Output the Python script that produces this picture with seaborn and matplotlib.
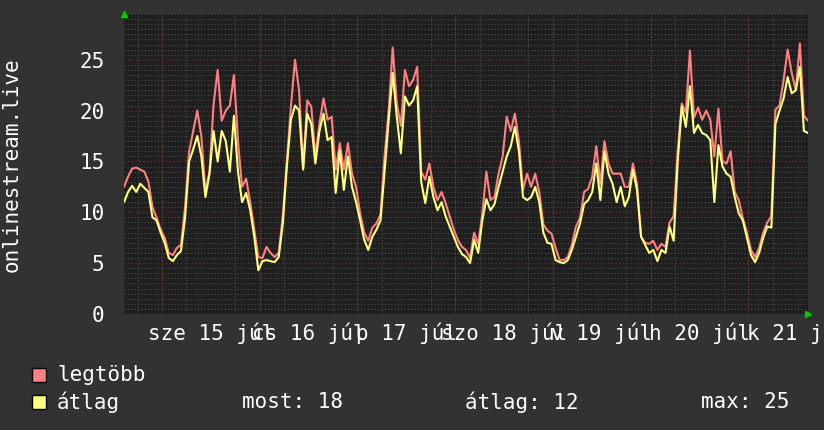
import matplotlib
matplotlib.use("Agg")
import matplotlib.pyplot as plt
import matplotlib.dates as mdates
from matplotlib.ticker import MultipleLocator
from matplotlib.patches import Rectangle
import seaborn as sns
import pandas as pd

# hourly readings, starting 2015-07-14 14:40
legtobb = [
    12.5, 13.5, 14.3, 14.4, 14.2, 14.0, 13.0, 10.5, 9.5, 8.3, 7.5, 6.0, 5.8, 6.5, 6.8, 10.5,
    16.0, 18.0, 20.0, 17.5, 12.0, 14.0, 20.6, 24.0, 19.0, 20.0, 20.5, 23.5, 17.0, 12.5, 13.3, 11.0,
    8.3, 5.6, 5.5, 6.6, 6.0, 5.6, 6.0, 9.6, 15.0, 20.4, 25.0, 22.0, 14.4, 21.0, 20.4, 15.5,
    18.7, 21.2, 19.1, 19.4, 14.2, 16.8, 14.2, 16.8, 13.8, 12.5, 9.9, 8.0, 7.2, 8.5, 8.9, 9.8,
    15.5, 20.0, 26.2, 20.7, 18.5, 24.0, 22.4, 23.0, 24.3, 14.0, 13.2, 14.8, 12.5, 11.2, 12.0, 10.9,
    9.6, 8.3, 7.3, 6.6, 6.3, 5.5, 8.0, 6.9, 9.8, 14.0, 11.2, 11.5, 13.8, 15.5, 19.4, 18.0,
    19.7, 17.0, 12.2, 13.8, 12.5, 13.8, 12.0, 8.8, 8.2, 7.9, 6.5, 5.3, 5.3, 5.6, 6.8, 8.6,
    9.4, 12.0, 12.3, 13.5, 16.5, 12.8, 17.0, 14.8, 13.8, 13.8, 13.8, 12.5, 12.5, 14.8, 12.8, 7.6,
    7.0, 6.9, 7.2, 6.3, 6.9, 6.6, 9.0, 9.6, 16.0, 20.7, 19.8, 25.9, 19.3, 20.3, 19.1, 20.0,
    19.1, 15.5, 20.2, 15.0, 14.8, 16.0, 12.0, 11.2, 9.4, 8.0, 6.3, 5.6, 6.5, 8.0, 9.0, 9.6,
    20.1, 20.5, 23.0, 26.0, 23.7, 22.0, 26.6, 19.5, 19.0,
]
atlag = [
    11.0, 12.0, 12.6, 12.0, 12.8, 12.4, 12.0, 9.5, 9.2, 8.0, 7.0, 5.5, 5.2, 5.8, 6.2, 9.5,
    15.0, 16.2, 17.5, 15.5, 11.5, 13.8, 18.0, 15.0, 18.0, 17.0, 14.0, 19.5, 14.0, 11.0, 11.9, 10.2,
    7.6, 4.3, 5.2, 5.3, 5.2, 5.1, 5.6, 8.9, 14.5, 19.1, 20.5, 20.0, 14.2, 19.7, 18.7, 14.8,
    18.0, 19.7, 17.1, 17.4, 11.9, 16.1, 12.2, 15.5, 12.5, 11.0, 9.2, 7.3, 6.3, 7.6, 8.3, 9.2,
    14.0, 19.0, 23.7, 19.4, 15.8, 21.4, 20.5, 21.0, 22.4, 13.0, 10.9, 13.5, 11.5, 10.2, 11.0, 9.6,
    8.6, 7.6, 6.6, 5.9, 5.6, 5.0, 7.3, 6.0, 9.2, 11.3, 10.2, 10.8, 12.5, 14.0, 15.5, 16.5,
    18.4, 16.0, 11.5, 11.2, 11.5, 12.5, 11.0, 8.0, 7.0, 6.9, 5.3, 5.1, 5.0, 5.3, 6.3, 7.6,
    8.9, 10.8, 11.2, 12.0, 14.8, 11.2, 16.0, 13.8, 12.8, 11.0, 12.5, 10.6, 11.5, 14.2, 12.2, 7.6,
    6.8, 6.0, 6.3, 5.2, 6.3, 6.0, 8.6, 7.2, 15.0, 20.4, 18.4, 22.4, 17.8, 18.6, 17.8, 17.6,
    17.1, 11.0, 16.6, 14.5, 13.8, 13.5, 11.5, 9.9, 9.2, 7.5, 5.8, 5.1, 6.0, 7.5, 8.6, 8.5,
    18.7, 20.0, 21.2, 23.3, 21.7, 22.0, 24.3, 18.0, 17.8,
]
day_labels = ["sze 15 júl", "cs 16 júl", "p 17 júl", "szo 18 júl",
              "v 19 júl", "h 20 júl", "k 21 júl"]
series_names = ["legtöbb", "átlag"]
stat_texts = ["most: 18", "átlag: 12", "max: 25"]

BG = "#323232"
PLOT_BG = "#1f1f1f"
RED = "#ff8080"
YELLOW = "#ffff80"

times = pd.date_range("2015-07-14 14:40", periods=len(atlag), freq="h")
df = pd.DataFrame({"ido": times, "legtöbb": legtobb, "átlag": atlag})
noons = pd.date_range("2015-07-15 12:00", periods=len(day_labels), freq="D")
midnights = pd.date_range("2015-07-15 00:00", periods=len(day_labels), freq="D")

sns.set_theme(style="dark")
plt.rcParams["font.family"] = ["DejaVu Sans Mono", "DejaVu Sans"]

fig = plt.figure(figsize=(8.24, 4.30), dpi=100, facecolor=BG)
ax = fig.add_axes([124 / 824, 116 / 430, 684 / 824, 300 / 430])
ax.set_facecolor(PLOT_BG)

# grid first
ax.xaxis.set_minor_locator(mdates.HourLocator(byhour=[0, 6, 12, 18]))
ax.yaxis.set_minor_locator(MultipleLocator(0.5))
ax.set_yticks(range(0, 30, 5))
ax.set_xticks(noons)
ax.set_xticklabels(day_labels)
ax.grid(which="minor", color="#4e4e4e", ls=(0, (1, 2)), lw=0.8)
ax.grid(axis="x", which="major", visible=False)
ax.grid(axis="y", which="major", color="#703030", ls=(0, (1, 2)), lw=0.9)
for m in midnights:
    ax.axvline(m, color="#703030", ls=(0, (1, 2)), lw=0.9, zorder=1)
ax.set_axisbelow(True)

sns.lineplot(data=df, x="ido", y="legtöbb", color=RED, lw=1.5, ax=ax, legend=False)
sns.lineplot(data=df, x="ido", y="átlag", color=YELLOW, lw=1.5, ax=ax, legend=False)

ax.set_xlim(times[0], times[-1])
ax.set_ylim(0, 29.5)
ax.set_xlabel("")
ax.set_ylabel("")
for s in ax.spines.values():
    s.set_visible(False)
ax.tick_params(axis="both", which="both", length=0, colors="white", labelsize=15)
ax.tick_params(axis="x", pad=6)
ax.tick_params(axis="y", pad=14)

# little green arrows at axis ends
ax.plot([0], [1.0], marker="^", color="#00cc00", ms=5, transform=ax.transAxes, clip_on=False)
ax.plot([1.0], [0], marker=">", color="#00cc00", ms=5, transform=ax.transAxes, clip_on=False)

fig.text(12 / 824, 1 - 165 / 430, "onlinestream.live", rotation=90, color="white",
         fontsize=15, ha="center", va="center")

# legend rows
rows_y = [375, 402]
for name, col, yy in zip(series_names, [RED, YELLOW], rows_y):
    fig.add_artist(Rectangle((32 / 824, 1 - (yy + 7) / 430), 14 / 824, 14 / 430,
                             transform=fig.transFigure, facecolor=col,
                             edgecolor="black", lw=1))
    fig.text(57 / 824, 1 - yy / 430, name, color="white", fontsize=15, va="center")
for txt, xx in zip(stat_texts, [242, 465, 701]):
    fig.text(xx / 824, 1 - rows_y[1] / 430, txt, color="white", fontsize=15, va="center")

fig.savefig("out.png", dpi=100, facecolor=BG)
